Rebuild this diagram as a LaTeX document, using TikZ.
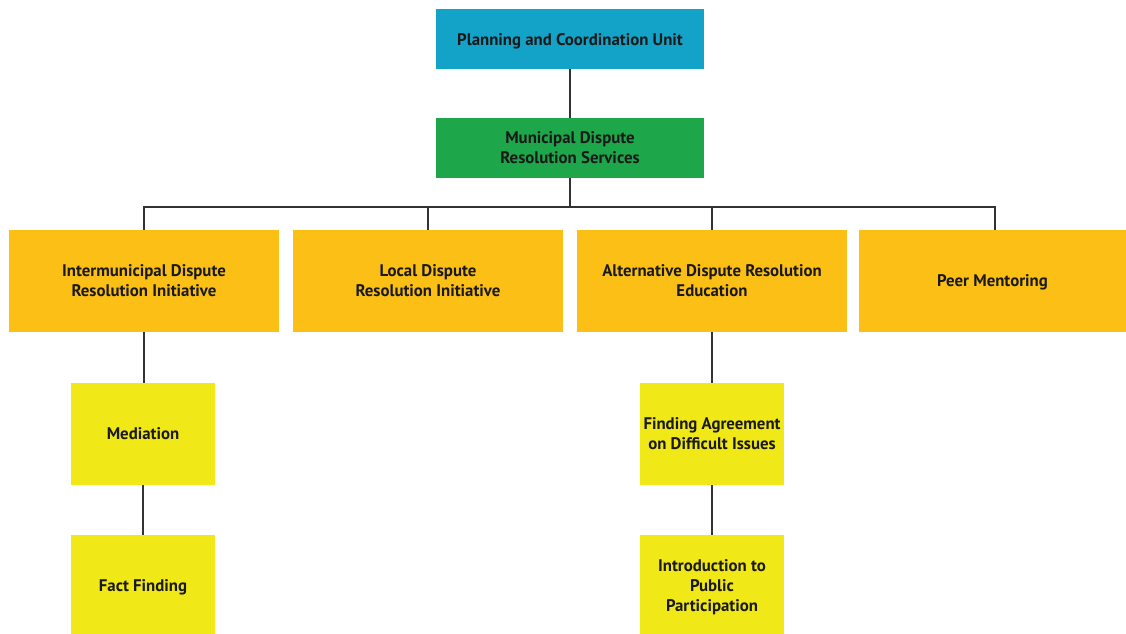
\documentclass[tikz,border=0pt]{standalone}
\usepackage{fontspec}
\setmainfont{PT Sans}
\begin{document}
\begin{tikzpicture}[x=1pt,y=-1pt,
  box/.style={draw=none,minimum width=#1,inner sep=0pt,align=center,text depth=0pt,
    font=\bfseries\fontsize{16.8}{20}\selectfont,text=black!90},
  unit/.style={box=268pt,minimum height=60pt,fill=topblue},
  svc/.style={box=268pt,minimum height=60pt,fill=midgreen},
  prog/.style={box=270pt,minimum height=102pt,fill=orangey},
  sub/.style={box=144pt,minimum height=102pt,fill=lemon},
  link/.style={draw=black!80,line width=1.2pt}]
\definecolor{topblue}{RGB}{19,163,200}
\definecolor{midgreen}{RGB}{29,166,74}
\definecolor{orangey}{RGB}{251,191,21}
\definecolor{lemon}{RGB}{241,232,23}
\useasboundingbox (0,0) rectangle (1126,633);
\clip (0,0) rectangle (1126,633);

\node[unit] (plan) at (570,39) {Planning and Coordination Unit};
\node[svc] (mun) at (570,148) {Municipal Dispute\\Resolution Services};

\node[prog] (inter) at (144,281) {Intermunicipal Dispute\\Resolution Initiative};
\node[prog] (local) at (428,281) {Local Dispute\\Resolution Initiative};
\node[prog] (adr) at (712,281) {Alternative Dispute Resolution\\Education};
\node[prog,minimum width=267pt] (peer) at (992.5,281) {Peer Mentoring};

\node[sub] (med) at (143,434) {Mediation};
\node[sub] (fact) at (143,586) {Fact Finding};
\node[sub] (agree) at (712,434) {Finding Agreement\\on Difficult Issues};
\node[sub] (intro) at (712,586) {Introduction to\\Public\\Participation};

\coordinate (bus) at (570,207);

\draw[link] (plan) -- (mun);
\draw[link] (mun) -- (bus);
\draw[link] (bus) -| (inter.north);
\draw[link] (bus) -| (local.north);
\draw[link] (bus) -| (adr.north);
\draw[link] (bus) -| ([xshift=2.5pt]peer.north);
\draw[link] (inter) -- (inter |- med.north);
\draw[link] (med) -- (fact);
\draw[link] (adr) -- (agree);
\draw[link] (agree) -- (intro);
\end{tikzpicture}
\end{document}
